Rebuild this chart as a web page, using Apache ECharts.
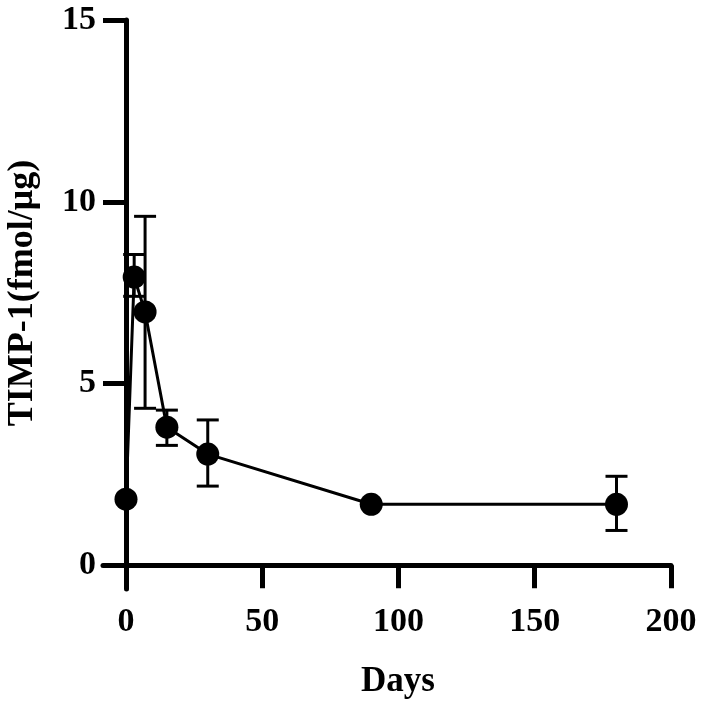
<!DOCTYPE html>
<html>
<head>
<meta charset="utf-8">
<script src="https://cdn.jsdelivr.net/npm/echarts@6/dist/echarts.min.js"></script>
<style>
  html, body { margin: 0; padding: 0; background: #fff; }
  #chart { width: 706px; height: 706px; }
</style>
</head>
<body>
<div id="chart"></div>
<script>
// values
let days = [0, 3, 7, 15, 30, 90, 180]
let timpMean = [1.82, 7.93, 6.97, 3.8, 3.06, 1.68, 1.68]
let timpUpper = [1.82, 8.55, 9.6, 4.27, 4.0, 1.68, 2.45]
let timpLower = [1.82, 7.4, 4.32, 3.3, 2.18, 1.68, 0.96]
let xTicks = [0, 50, 100, 150, 200]
let yTicks = [0, 5, 10, 15]

let font = '"Liberation Serif", "Times New Roman", serif'

let lineData = days.map((d, i) => [d, timpMean[i]])
let errData = days.map((d, i) => [d, timpLower[i], timpUpper[i]])

let myChart = echarts.init(document.getElementById('chart'))

let option = {
  animation: false,
  backgroundColor: '#fff',
  grid: {
    left: 103,
    right: 35,
    top: 20,
    bottom: 117,
    containLabel: false,
    outerBoundsMode: 'none'
  },
  xAxis: {
    type: 'value',
    min: -8.44,
    max: 200,
    name: 'Days',
    nameLocation: 'middle',
    nameGap: 75,
    nameTextStyle: { fontFamily: font, fontWeight: 'bold', fontSize: 35, color: '#000', padding: [0, 0, 0, 22] },
    axisLine: { onZero: true, lineStyle: { color: '#000', width: 5 } },
    axisTick: { show: true, customValues: xTicks, length: 23, lineStyle: { color: '#000', width: 5 } },
    axisLabel: { customValues: xTicks, margin: 16, fontFamily: font, fontWeight: 'bold', fontSize: 34, color: '#000' },
    splitLine: { show: false }
  },
  yAxis: {
    type: 'value',
    min: -0.65,
    max: 15,
    name: 'TIMP-1(fmol/μg)',
    nameLocation: 'middle',
    nameGap: 62,
    nameTextStyle: { fontFamily: font, fontWeight: 'bold', fontSize: 36, color: '#000', padding: [0, 0, 0, 23] },
    axisLine: { onZero: true, lineStyle: { color: '#000', width: 5 } },
    axisTick: { show: true, customValues: yTicks, length: 23, lineStyle: { color: '#000', width: 5 } },
    axisLabel: { customValues: yTicks, margin: 7, fontFamily: font, fontWeight: 'bold', fontSize: 34, color: '#000' },
    splitLine: { show: false }
  },
  series: [
    {
      name: 'error',
      type: 'custom',
      z: 1,
      data: errData,
      renderItem: function(params, api) {
        let x = api.value(0)
        let top = api.coord([x, api.value(2)])
        let bot = api.coord([x, api.value(1)])
        let hw = 11
        let st = { stroke: '#000', lineWidth: 3 }
        return {
          type: 'group',
          children: [
            { type: 'line', shape: { x1: top[0], y1: top[1], x2: bot[0], y2: bot[1] }, style: st },
            { type: 'line', shape: { x1: top[0] - hw, y1: top[1], x2: top[0] + hw, y2: top[1] }, style: st },
            { type: 'line', shape: { x1: bot[0] - hw, y1: bot[1], x2: bot[0] + hw, y2: bot[1] }, style: st }
          ]
        }
      }
    },
    {
      name: 'TIMP-1',
      type: 'line',
      z: 3,
      data: lineData,
      symbol: 'circle',
      symbolSize: 23,
      itemStyle: { color: '#000' },
      lineStyle: { color: '#000', width: 3 }
    }
  ]
}

myChart.setOption(option)
</script>
</body>
</html>
